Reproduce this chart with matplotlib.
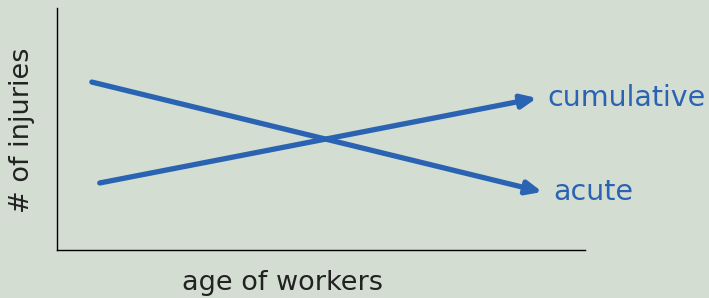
import matplotlib.pyplot as plt

# schematic trend lines (arbitrary units)
series = ['acute', 'cumulative']
x_start = [0.66, 0.81]
y_start = [6.94, 2.77]
x_end = [9.19, 9.09]
y_end = [2.40, 6.28]

bg = '#d3ddd2'
blue = '#2a63b2'

fig = plt.figure(figsize=(7.09, 2.98), dpi=100, facecolor=bg)
ax = fig.add_axes([57/709, 48/298, 528/709, 242/298])
ax.set_facecolor(bg)
ax.set_xlim(0, 10)
ax.set_ylim(0, 10)

for name, x0, y0, x1, y1 in zip(series, x_start, y_start, x_end, y_end):
    ax.annotate('', xy=(x1, y1), xytext=(x0, y0),
                arrowprops=dict(arrowstyle='-|>,head_length=0.9,head_width=0.4',
                                color=blue, lw=3.8, shrinkA=0, shrinkB=0))
    ax.text(x1 + 0.2, y1, name, color=blue, fontsize=20.5, va='center', ha='left')

for s in ['top', 'right']:
    ax.spines[s].set_visible(False)
for s in ['left', 'bottom']:
    ax.spines[s].set_linewidth(1.0)
ax.set_xticks([])
ax.set_yticks([])
ax.set_xlabel('age of workers', fontsize=19.5, color='#222222')
ax.set_ylabel('# of injuries', fontsize=19.5, color='#222222')
ax.xaxis.set_label_coords(0.428, -0.136)
ax.yaxis.set_label_coords(-0.066, 0.496)
ax.xaxis.label.set_va('center')
ax.yaxis.label.set_va('center')

fig.savefig('out.png', dpi=100, facecolor=bg)
